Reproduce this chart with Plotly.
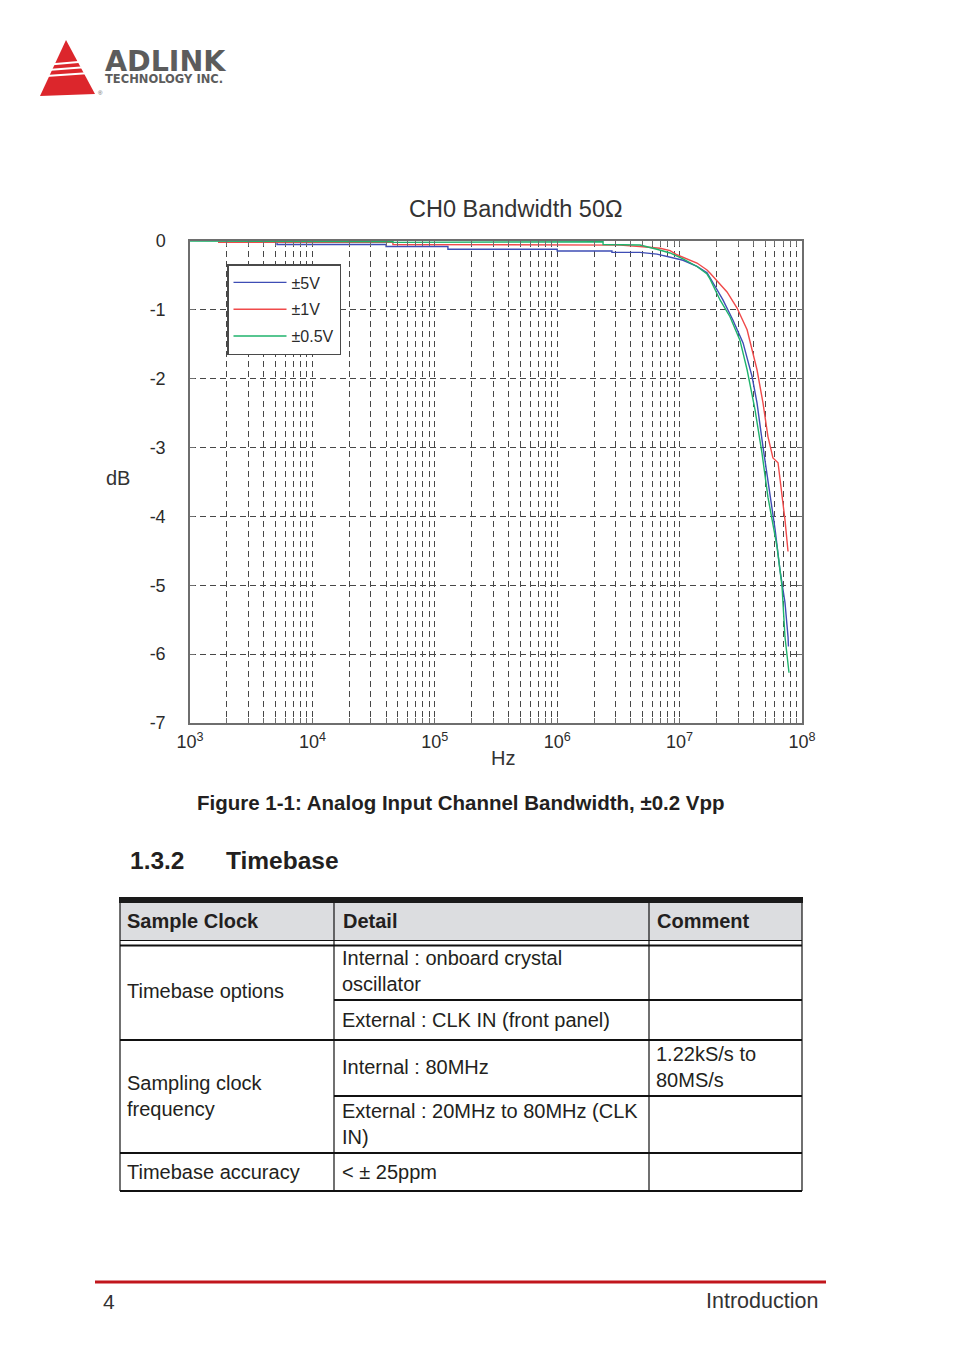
import plotly.graph_objects as go

W, H = 954, 1354
FONT = "Liberation Sans, Arial, Helvetica, sans-serif"
TXT = "#2b2b2b"

# ---------------- data ----------------
series_names = ["±5V", "±1V", "±0.5V"]
series_colors = ["#3e4db5", "#f04a4a", "#1fb36c"]

freq_5v = [1694, 5140, 5140, 40000, 40000, 128000, 128000, 1000000, 1000000,
           2800000, 2800000, 4740000, 6530000, 8360000, 10670000, 13870000,
           16750000, 17700000, 22600000, 27300000, 33000000, 39100000, 42900000,
           48000000, 52700000, 60300000, 66100000, 72600000, 76900000, 77500000]
db_5v = [-0.02, -0.02, -0.05, -0.05, -0.08, -0.08, -0.12, -0.12, -0.145,
         -0.145, -0.165, -0.165, -0.19, -0.23, -0.28, -0.37,
         -0.46, -0.53, -0.856, -1.15, -1.48, -1.97, -2.35,
         -2.99, -3.47, -4.19, -4.78, -5.25, -5.75, -5.89]

freq_1v = [1694, 45500, 45500, 2370000, 3260000, 4740000, 6920000, 8360000,
           9500000, 13870000, 16750000, 17700000, 24400000, 29400000, 35600000,
           42900000, 48000000, 52700000, 57900000, 63700000, 68700000, 72600000,
           76900000]
db_1v = [-0.02, -0.02, -0.05, -0.05, -0.06, -0.08, -0.105, -0.14,
         -0.2, -0.32, -0.42, -0.465, -0.74, -0.97, -1.29,
         -1.87, -2.35, -2.84, -3.15, -3.22, -3.66, -4.05,
         -4.51]

freq_05v = [1000, 1694, 1694, 45500, 45500, 298500, 298500, 2370000, 2370000,
            4740000, 6530000, 8360000, 10670000, 13870000, 16750000, 17700000,
            21400000, 25800000, 31100000, 35600000, 41300000, 47100000, 52700000,
            62500000, 68700000, 72600000, 78300000]
db_05v = [0.0, 0.0, -0.01, -0.01, -0.02, -0.02, -0.01, -0.01, -0.05,
          -0.058, -0.12, -0.174, -0.26, -0.37, -0.48, -0.55,
          -0.856, -1.10, -1.44, -1.87, -2.45, -3.08, -3.72,
          -4.44, -5.02, -5.75, -6.27]

x_decades = [3, 4, 5, 6, 7, 8]
x_tick_text = ["10<sup>3</sup>", "10<sup>4</sup>", "10<sup>5</sup>",
               "10<sup>6</sup>", "10<sup>7</sup>", "10<sup>8</sup>"]
y_tick_vals = [0, -1, -2, -3, -4, -5, -6, -7]
y_tick_text = ["0", "-1", "-2", "-3", "-4", "-5", "-6", "-7"]

chart_title = "CH0 Bandwidth 50Ω"
caption = "Figure 1-1: Analog Input Channel Bandwidth, ±0.2 Vpp"
section_no = "1.3.2"
section_title = "Timebase"

table_header = ["Sample Clock", "Detail", "Comment"]
table_col1 = ["Timebase options", "Sampling clock<br>frequency", "Timebase accuracy"]
table_col2 = ["Internal : onboard crystal<br>oscillator", "External : CLK IN (front panel)",
              "Internal : 80MHz", "External : 20MHz to 80MHz (CLK<br>IN)", "&lt; ± 25ppm"]
table_col3 = ["", "", "1.22kS/s to<br>80MS/s", "", ""]

page_number = "4"
chapter_name = "Introduction"

# ---------------- helpers ----------------
def px(x):
    return x / W


def py(y):
    return 1 - y / H


def ann(text, x, y, size, bold=False, xanchor="left", color=TXT, family=FONT):
    return dict(text=f"<b>{text}</b>" if bold else text, x=px(x), y=py(y),
                xref="paper", yref="paper", xanchor=xanchor, yanchor="middle",
                showarrow=False, align="left",
                font=dict(size=size, color=color, family=family))


def hline(x0, x1, y, w=1.5, color="#111"):
    return dict(type="line", xref="paper", yref="paper", x0=px(x0), x1=px(x1),
                y0=py(y), y1=py(y), line=dict(color=color, width=w))


def vline(x, y0, y1, w=1.5, color="#111"):
    return dict(type="line", xref="paper", yref="paper", x0=px(x), x1=px(x),
                y0=py(y0), y1=py(y1), line=dict(color=color, width=w))


# ---------------- figure ----------------
fig = go.Figure()
for i, (f, d) in enumerate([(freq_5v, db_5v), (freq_1v, db_1v), (freq_05v, db_05v)]):
    fig.add_trace(go.Scatter(x=f, y=d, mode="lines", name=series_names[i],
                             legendgroup=f"g{i}",
                             line=dict(color=series_colors[i], width=1.4)))

# log-axis grid positions (1..9 x 10^k), labels only on decades
decade_vals = [10 ** k for k in x_decades]
x_grid = [m * 10 ** k for k in x_decades[:-1] for m in range(1, 10)] + [decade_vals[-1]]
x_grid_text = [x_tick_text[decade_vals.index(v)] if v in decade_vals else "" for v in x_grid]

AX = "#6e6e6e"
GRID = "#474747"
fig.update_layout(
    width=W, height=H, autosize=False,
    margin=dict(l=0, r=0, t=0, b=0, pad=0, autoexpand=False),
    paper_bgcolor="white", plot_bgcolor="white",
    showlegend=True,
    legend=dict(x=px(227), y=py(264), xanchor="left", yanchor="top",
                bgcolor="white", bordercolor="#4a4a4a", borderwidth=1.5,
                font=dict(family=FONT, size=16, color=TXT),
                tracegroupgap=3, itemwidth=53),
    xaxis=dict(type="log", range=[3, 8], domain=[px(190), px(802)],
               tickvals=x_grid, ticktext=x_grid_text, automargin=False,
               ticks="inside", ticklen=5, tickcolor=AX,
               showline=True, linecolor=AX, linewidth=1.5, mirror="ticks",
               showgrid=True, gridcolor=GRID, gridwidth=1, griddash="6px,4px",
               zeroline=False, ticklabelstandoff=2,
               tickfont=dict(family=FONT, size=18, color=TXT)),
    yaxis=dict(range=[-7, 0], domain=[py(723), py(241)],
               tickvals=y_tick_vals, ticktext=y_tick_text, automargin=False,
               ticks="inside", ticklen=5, tickcolor=AX,
               showline=True, linecolor=AX, linewidth=1.5, mirror="ticks",
               showgrid=True, gridcolor=GRID, gridwidth=1, griddash="6px,4px",
               zeroline=False, ticklabelstandoff=19,
               tickfont=dict(family=FONT, size=18, color=TXT)),
)

annotations = []
shapes = []

# chart titles
annotations.append(ann(chart_title, 516, 209, 23.5, xanchor="center", color="#333"))
annotations.append(ann("dB", 118, 478, 20, xanchor="center", color="#333"))
annotations.append(ann("Hz", 503, 758, 20, xanchor="center", color="#333"))

# logo
shapes.append(dict(type="path", xref="paper", yref="paper",
                   path=f"M{px(66)},{py(40)} L{px(40)},{py(96)} L{px(95)},{py(94)} Z",
                   fillcolor="#dc262c", line=dict(width=0)))
for (xa, ya, xb, yb) in [(50, 64.5, 84, 61.5), (48, 70, 87, 67), (46, 76, 90, 73)]:
    shapes.append(dict(type="line", xref="paper", yref="paper",
                       x0=px(xa), y0=py(ya), x1=px(xb), y1=py(yb),
                       line=dict(color="white", width=2)))
annotations.append(ann("ADLINK", 103, 61, 28.5, bold=True, color="#5c5c5c",
                       family="DejaVu Sans, Liberation Sans, sans-serif"))
annotations.append(ann("TECHNOLOGY INC.", 103, 79, 11.5, bold=True, color="#5c5c5c",
                       family="DejaVu Sans, Liberation Sans, sans-serif"))
annotations.append(ann("®", 96, 93, 6, color="#5c5c5c"))

# caption and heading
annotations.append(ann(caption, 461, 802, 20.5, bold=True, xanchor="center", color="#231f20"))
annotations.append(ann(section_no, 128, 860, 24.5, bold=True, color="#231f20"))
annotations.append(ann(section_title, 224, 860, 24.5, bold=True, color="#231f20"))

# table
TL, C1, C2, TR = 120, 334, 649, 802
shapes.append(dict(type="rect", xref="paper", yref="paper",
                   x0=px(TL), x1=px(TR), y0=py(903), y1=py(940),
                   fillcolor="#dcdde0", line=dict(width=0), layer="below"))
shapes.append(dict(type="rect", xref="paper", yref="paper",
                   x0=px(TL - 1), x1=px(TR + 1), y0=py(897), y1=py(903),
                   fillcolor="#1a1a1a", line=dict(width=0)))
shapes.append(hline(TL, TR, 940.5, 1))
shapes.append(hline(TL, TR, 945.5, 2))
shapes.append(hline(TL, TR, 1040, 1.8))
shapes.append(hline(TL, TR, 1153, 1.8))
shapes.append(hline(TL, TR, 1191, 1.8))
shapes.append(hline(C1, TR, 1000, 1.8))
shapes.append(hline(C1, TR, 1096, 1.8))
for xv in (TL, C1, C2, TR):
    shapes.append(vline(xv, 903, 1191, 1.2))

hx = [TL + 5, C1 + 7, C2 + 6]
for t, x in zip(table_header, hx):
    annotations.append(ann(t, x, 921, 20, bold=True, color="#231f20"))

row1_y = [991, 1095.5, 1172]
for t, y in zip(table_col1, row1_y):
    annotations.append(ann(t, TL + 5, y, 20, color="#231f20"))
sub_y = [971, 1020, 1067, 1124, 1172]
for t, y in zip(table_col2, sub_y):
    annotations.append(ann(t, C1 + 6, y, 20, color="#231f20"))
for t, y in zip(table_col3, sub_y):
    if t:
        annotations.append(ann(t, C2 + 5, y, 20, color="#231f20"))

# footer
shapes.append(hline(95, 826, 1282, 3, color="#c1161c"))
annotations.append(ann(page_number, 101, 1301, 21, color="#333"))
annotations.append(ann(chapter_name, 820, 1301, 21.5, xanchor="right", color="#333"))

fig.update_layout(annotations=annotations, shapes=shapes)

fig.write_html("out.html", config={"displayModeBar": False},
               post_script="document.body.style.margin='0';")
